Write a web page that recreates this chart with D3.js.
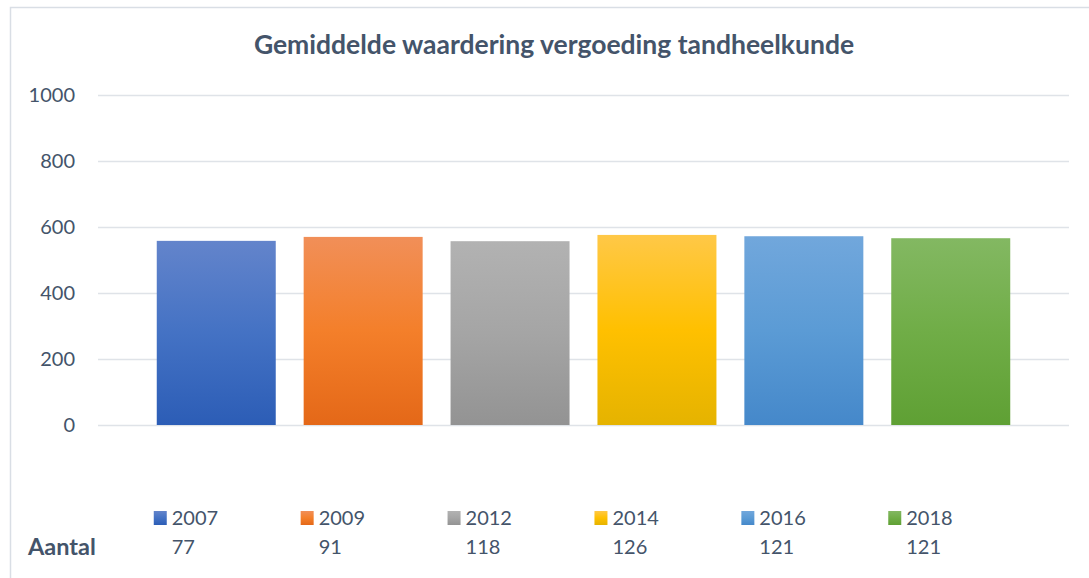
<!DOCTYPE html>
<html>
<head>
<meta charset="utf-8">
<script src="https://cdn.jsdelivr.net/npm/d3@7"></script>
<style>
  body { margin: 0; background: #fff; }
  text { font-family: Lato, "Open Sans", sans-serif; fill: #44546a; }
</style>
</head>
<body>
<svg id="canvas" width="1089" height="578"></svg>
<script>
// data
let years = ['2007', '2009', '2012', '2014', '2016', '2018']
let scores = [558, 570, 557, 576, 572, 566]
let counts = [77, 91, 118, 126, 121, 121]
let yTicks = [0, 200, 400, 600, 800, 1000]
let chartTitle = 'Gemiddelde waardering vergoeding tandheelkunde'
let rowLabel = 'Aantal'

// top / middle / bottom colours of the office style gradients
let barColors = [
    ['#6384cb', '#4472c4', '#2c5db6'],
    ['#f18f58', '#f47f2a', '#e46818'],
    ['#b2b2b2', '#a5a5a5', '#939393'],
    ['#ffc847', '#ffc000', '#e5b300'],
    ['#71a7dc', '#5b9bd5', '#4588ca'],
    ['#83b862', '#70ad47', '#5fa034']
]

let canvas = d3.select('#canvas')

function drawChart() {
    var margin = {top: 95, left: 98, right: 20, bottom: 153},
    width = 1089 - margin.left - margin.right,
    height = 578 - margin.top - margin.bottom

    // outer chart frame
    canvas.append('rect')
        .attr('x', 10.5).attr('y', 7.5)
        .attr('width', 1200).attr('height', 700)
        .attr('fill', '#fff')
        .attr('stroke', '#d9dee5')
        .attr('stroke-width', 1.5)

    let defs = canvas.append('defs')
    barColors.forEach(function (c, i) {
        let g = defs.append('linearGradient')
            .attr('id', 'grad' + i)
            .attr('x1', 0).attr('y1', 0).attr('x2', 0).attr('y2', 1)
        g.append('stop').attr('offset', '0%').attr('stop-color', c[0])
        g.append('stop').attr('offset', '50%').attr('stop-color', c[1])
        g.append('stop').attr('offset', '100%').attr('stop-color', c[2])
    })

    let x = d3.scaleBand()
        .domain(years)
        .range([margin.left, margin.left + width])
        .paddingInner(0.19)
        .paddingOuter(0.4)

    let y = d3.scaleLinear()
        .domain([0, 1000])
        .range([margin.top + height, margin.top])

    // gridlines + labels
    let yAxis = d3.axisLeft(y)
        .tickValues(yTicks)
        .tickSize(-width)
        .tickPadding(23)
        .tickFormat(d3.format('d'))

    let ga = canvas.append('g')
        .attr('transform', 'translate(' + margin.left + ',0)')
        .call(yAxis)
    ga.select('.domain').remove()
    ga.selectAll('line').attr('stroke', '#dfe3e8').attr('stroke-width', 1.5)
    ga.selectAll('text')
        .attr('fill', '#44546a')
        .style('font-size', '20px')

    canvas.selectAll('rect.bar')
        .data(scores)
        .enter()
        .append('rect')
        .attr('class', 'bar')
        .attr('x', function (d, i) { return x(years[i]) })
        .attr('y', function (d) { return y(d) })
        .attr('width', x.bandwidth())
        .attr('height', function (d) { return y(0) - y(d) })
        .attr('fill', function (d, i) { return 'url(#grad' + i + ')' })

    canvas.append('text')
        .attr('x', 554)
        .attr('y', 54)
        .attr('text-anchor', 'middle')
        .style('font-size', '26.5px')
        .style('font-weight', 'bold')
        .text(chartTitle)

    // legend + data row underneath
    let leg = canvas.selectAll('g.leg')
        .data(years)
        .enter()
        .append('g')
        .attr('class', 'leg')
        .attr('transform', function (d) { return 'translate(' + (x(d) - 3) + ',0)' })

    leg.append('rect')
        .attr('x', 0).attr('y', 511)
        .attr('width', 13).attr('height', 14)
        .attr('fill', function (d, i) { return 'url(#grad' + i + ')' })

    leg.append('text')
        .attr('x', 18).attr('y', 525)
        .style('font-size', '20px')
        .text(function (d) { return d })

    leg.append('text')
        .attr('x', 18).attr('y', 554)
        .style('font-size', '20px')
        .text(function (d, i) { return counts[i] })

    canvas.append('text')
        .attr('x', 28).attr('y', 555)
        .style('font-size', '23.5px')
        .style('font-weight', 'bold')
        .text(rowLabel)
}

window.onload = drawChart
</script>
</body>
</html>
